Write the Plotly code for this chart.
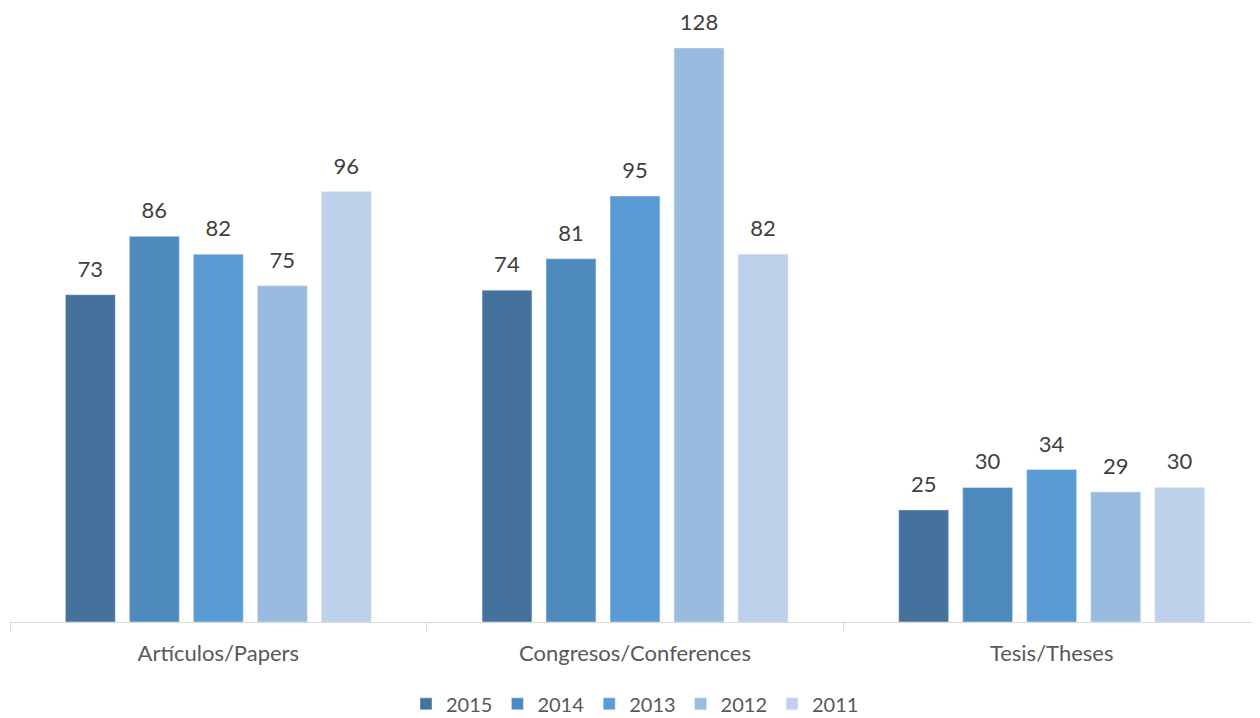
import plotly.graph_objects as go

categories = ["Artículos/Papers", "Congresos/Conferences", "Tesis/Theses"]
years = ["2015", "2014", "2013", "2012", "2011"]
values_2015 = [73, 74, 25]
values_2014 = [86, 81, 30]
values_2013 = [82, 95, 34]
values_2012 = [75, 128, 29]
values_2011 = [96, 82, 30]
series = [values_2015, values_2014, values_2013, values_2012, values_2011]
colors = ["#44729D", "#4F8ABE", "#5B9BD5", "#9ABBE0", "#BDD1EA"]

FONT = "Lato, Calibri, Carlito, sans-serif"

fig = go.Figure()
for yr, vals, col in zip(years, series, colors):
    fig.add_trace(go.Bar(
        name=yr, x=categories, y=vals, marker_color=col,
        text=vals, textposition="outside",
        texttemplate="<span style='font-size:22px'>%{y}</span><br> ",
        textfont=dict(size=10, color="#404040", family=FONT),
        cliponaxis=False,
    ))

# page body adds an 8px margin, so the figure is sized to fit the window
fig.update_layout(
    width=1252, height=710,
    margin=dict(l=2, r=0, t=12, b=96, autoexpand=False),
    paper_bgcolor="white", plot_bgcolor="white",
    barmode="group", bargap=0.232, bargroupgap=0.22,
    font=dict(family=FONT, size=20, color="#595959"),
    showlegend=True,
    legend=dict(orientation="h", x=0.5, xanchor="center", y=-0.136, yanchor="middle",
                font=dict(size=20, color="#595959"), traceorder="normal"),
    xaxis=dict(showline=True, linecolor="#D9D9D9", linewidth=1, automargin=False,
               ticks="outside", tickson="boundaries", ticklen=8, tickcolor="#D9D9D9",
               ticklabelstandoff=12,
               tickfont=dict(size=22, color="#595959")),
    yaxis=dict(range=[0, 134.25], visible=False, showgrid=False, automargin=False),
)
fig.write_html("out.html")
